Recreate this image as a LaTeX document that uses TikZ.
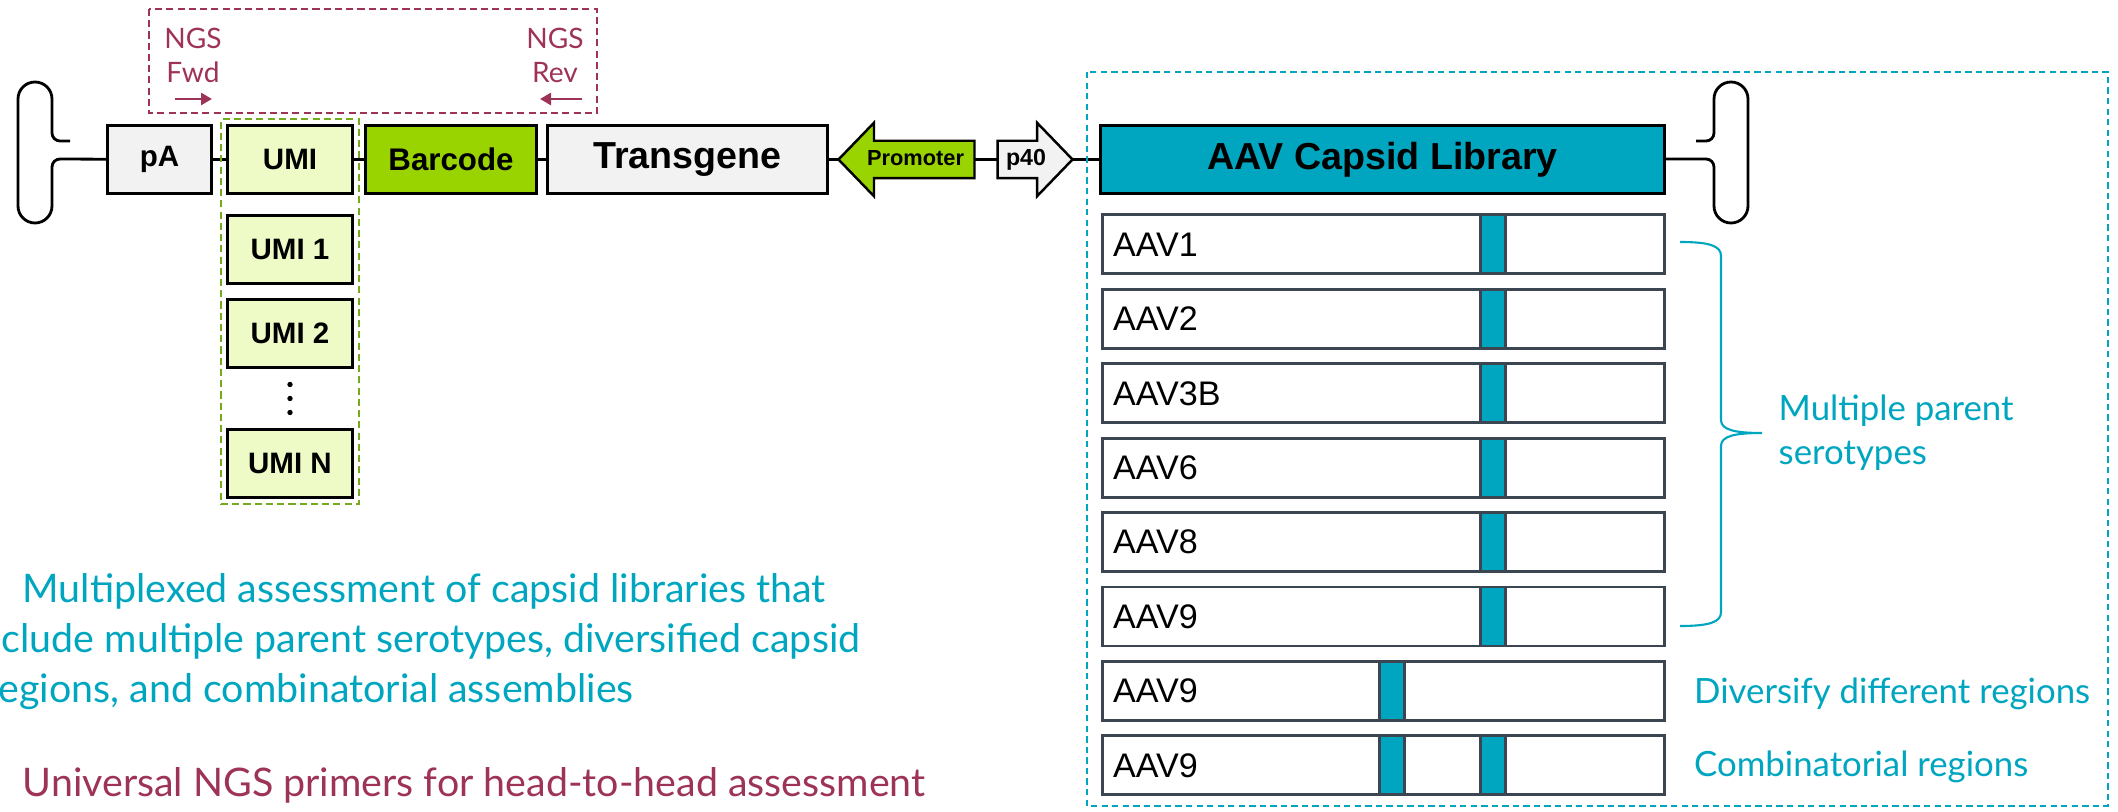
\documentclass[tikz,border=0pt]{standalone}
\usepackage{fontspec}
\setmainfont{Liberation Sans}
\newfontfamily\gillfont{Lato}
\usetikzlibrary{positioning,fit,calc,shapes.arrows,arrows.meta}

\definecolor{capteal}{HTML}{00A6C0}
\definecolor{ngsred}{HTML}{9E3358}
\definecolor{bcgreen}{HTML}{99D400}
\definecolor{umigreen}{HTML}{EEFBC6}
\definecolor{umiline}{HTML}{74AA1E}
\definecolor{boxgray}{HTML}{F2F2F2}
\definecolor{rowgray}{HTML}{3B4652}

\tikzset{
  part/.style={draw, line width=0.7pt, fill=boxgray, minimum height=0.68cm,
    inner sep=0pt, outer sep=0pt, font=\bfseries\fontsize{8.4}{10}\selectfont},
  umibox/.style={part, fill=umigreen, minimum width=1.25cm},
  promo/.style={single arrow, draw, line width=0.7pt, fill=boxgray, outer sep=0pt,
    single arrow head extend=0.18cm, single arrow tip angle=92,
    inner xsep=0.02cm, inner ysep=0.075cm, text height=0.16cm, text depth=0.04cm,
    font=\bfseries\fontsize{6.2}{7}\selectfont},
  variant/.style={draw=rowgray, line width=0.85pt, minimum width=5.62cm,
    minimum height=0.59cm, inner sep=0pt},
  region/.style={draw=rowgray, line width=0.85pt, fill=capteal,
    minimum width=0.25cm, minimum height=0.59cm, inner sep=0pt},
  note/.style={text=capteal, inner sep=0pt, align=left,
    font=\gillfont\fontsize{9.9}{12.5}\selectfont},
  aim/.style={note, anchor=base west, font=\gillfont\fontsize{11.2}{13}\selectfont},
  ngs/.style={text=ngsred, inner sep=0pt, align=center,
    font=\gillfont\fontsize{8}{9.7}\selectfont},
  primer/.style={ngsred, line width=0.8pt, -{Triangle[length=1.1mm,width=1.2mm]}},
  itr/.pic={
    \draw[line width=0.8pt] (0.18,0.18) [rounded corners=0.8mm] -- (0,0.18)
      [rounded corners=1.7mm] -- (0,0.77) -- (-0.34,0.77) -- (-0.34,-0.64) -- (0,-0.64)
      [rounded corners=0.8mm] -- (0,0) -- (0.08,0);
    \coordinate (-stem) at (0.08,0);
  }
}

\begin{document}
\begin{tikzpicture}
  \useasboundingbox (0,0) rectangle (21.18,-8.12);
  \clip (0,0) rectangle (21.18,-8.12);

  % NGS primers
  \node[ngs] (fwd) at (1.93,-0.55) {NGS\\Fwd};
  \node[ngs] (rev) at (5.55,-0.55) {NGS\\Rev};
  \coordinate (fwdS) at (1.75,-0.99);
  \coordinate (fwdE) at (2.12,-0.99);
  \coordinate (revS) at (5.82,-0.99);
  \coordinate (revE) at (5.40,-0.99);
  \draw[primer] (fwdS) -- (fwdE);
  \draw[primer] (revS) -- (revE);
  \draw[ngsred, line width=0.6pt, dash pattern=on 2pt off 1.2pt] (1.49,-0.09) rectangle (5.97,-1.13);

  % vector backbone
  \pic (itrL) at (0.52,-1.59) {itr};
  \node[part, minimum width=1.04cm] (pA) at (1.595,-1.595) {pA};
  \node[umibox, right=0.16cm of pA] (umi) {UMI};
  \node[part, fill=bcgreen, minimum width=1.71cm, font=\bfseries\fontsize{8.9}{10}\selectfont,
    right=0.13cm of umi] (barcode) {Barcode};
  \node[part, minimum width=2.80cm, font=\bfseries\fontsize{10.7}{12}\selectfont,
    right=0.11cm of barcode] (transgene) {Transgene};
  \node[promo, fill=bcgreen, shape border rotate=180, minimum height=1.36cm,
    right=0.11cm of transgene] (promoter) {Promoter};
  \node[promo, minimum height=0.75cm, inner xsep=0pt, font=\bfseries\fontsize{6.6}{8}\selectfont,
    right=0.23cm of promoter] (p40) {p40};
  \node[part, fill=capteal, minimum width=5.64cm, font=\bfseries\fontsize{10.7}{12}\selectfont,
    right=0.28cm of p40] (capsid) {AAV Capsid Library};
  \pic[xscale=-1] (itrR) at (17.14,-1.59) {itr};

  \draw[line width=0.8pt] (itrL-stem) -- (pA) (pA) -- (umi) (umi) -- (barcode)
    (barcode) -- (transgene) (transgene) -- (promoter) (promoter) -- (p40)
    (p40) -- (capsid) (capsid) -- (itrR-stem);

  % UMI variants
  \node[umibox, below=0.22cm of umi] (umi1) {UMI 1};
  \node[umibox, below=0.16cm of umi1] (umi2) {UMI 2};
  \node[umibox, below=0.62cm of umi2] (umiN) {UMI N};
  \coordinate (dots) at ($(umi2.south)!0.5!(umiN.north)$);
  \foreach \k in {-1,0,1}
    \fill ([yshift=\k*0.14cm]dots) circle (0.027cm);
  \node[draw=umiline, line width=0.6pt, dash pattern=on 2pt off 1.2pt, inner sep=0.065cm,
    fit=(umi)(umiN)] (umiset) {};

  % capsid library
  \draw[capteal, line width=0.6pt, dash pattern=on 1.8pt off 1.2pt] (10.87,-0.72) rectangle (21.08,-8.06);
  \foreach \name [count=\i] in {AAV1,AAV2,AAV3B,AAV6,AAV8,AAV9,AAV9,AAV9} {
    \node[variant] (row\i) at (13.83,{-2.445-0.744*(\i-1)}) {};
    \node[anchor=west, inner sep=0pt, font=\fontsize{9.7}{11}\selectfont] (name\i)
      at ([xshift=0.12cm]row\i.west) {\name};
  }
  \foreach \i in {1,2,3,4,5,6,8}
    \node[region] (hvr\i) at ([xshift=3.925cm]row\i.west) {};
  \foreach \i in {7,8}
    \node[region] (var\i) at ([xshift=2.91cm]row\i.west) {};

  % brace
  \coordinate (bTop) at (16.80,-2.42);
  \coordinate (bTip) at (17.62,-4.33);
  \coordinate (bBot) at (16.80,-6.26);
  \draw[capteal, line width=0.6pt] (bTop) .. controls (17.10,-2.42) and (17.21,-2.46) .. (17.21,-2.56)
    -- (17.21,-4.20) .. controls (17.21,-4.30) and (17.35,-4.33) .. (bTip)
    .. controls (17.35,-4.33) and (17.21,-4.36) .. (17.21,-4.46)
    -- (17.21,-6.12) .. controls (17.21,-6.22) and (17.10,-6.26) .. (bBot);

  \node[note, anchor=west] (parents) at ([xshift=0.16cm]bTip) {Multiple parent\\serotypes};
  \node[note, anchor=base west] (diversify) at ([xshift=0.28cm,yshift=-0.13cm]row7.east)
    {Diversify different regions};
  \node[note, anchor=base west] (combine) at ([xshift=0.28cm,yshift=-0.11cm]row8.east)
    {Combinatorial regions};

  % bullet text
  \node[aim] (aimA) at (0.22,-6.03) {Multiplexed assessment of capsid libraries that};
  \node[aim] (aimB) at (0.01,-6.53) {clude multiple parent serotypes, diversified capsid};
  \node[aim] (aimC) at (-0.02,-7.03) {egions, and combinatorial assemblies};
  \node[aim, text=ngsred] (aimD) at (0.22,-7.97) {Universal NGS primers for head-to-head assessment};
\end{tikzpicture}
\end{document}
